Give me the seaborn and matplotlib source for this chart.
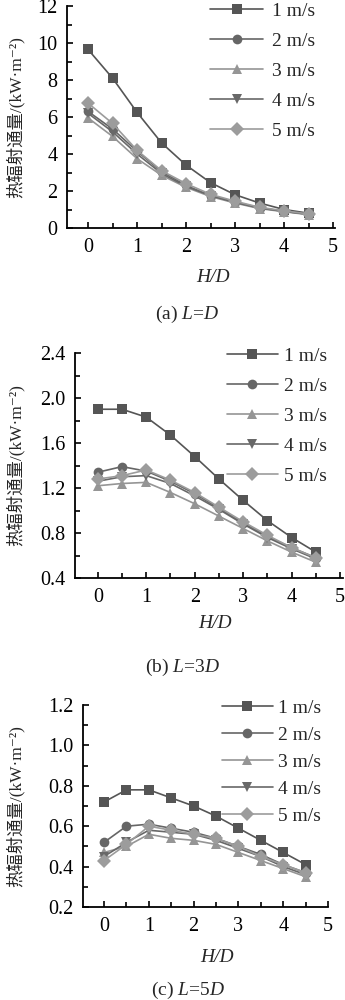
import numpy as np
import pandas as pd
import seaborn as sns
import matplotlib.pyplot as plt
from matplotlib.ticker import MultipleLocator

sns.set_theme(style='ticks')
plt.rcParams['font.family'] = ['Liberation Serif', 'Noto Sans CJK SC', 'DejaVu Sans']
plt.rcParams['mathtext.fontset'] = 'custom'
plt.rcParams['mathtext.rm'] = 'Liberation Serif'
plt.rcParams['mathtext.it'] = 'Liberation Serif:italic'

# ---------------- data ----------------
hd = [0, 0.5, 1, 1.5, 2, 2.5, 3, 3.5, 4, 4.5]
speeds = ['1 m/s', '2 m/s', '3 m/s', '4 m/s', '5 m/s']

# (a) L = D
a_v1 = [9.65, 8.1, 6.25, 4.6, 3.4, 2.45, 1.8, 1.35, 1.0, 0.8]
a_v2 = [6.3, 5.35, 4.15, 3.05, 2.3, 1.75, 1.4, 1.1, 0.9, 0.75]
a_v3 = [5.95, 4.95, 3.75, 2.85, 2.2, 1.7, 1.35, 1.05, 0.88, 0.72]
a_v4 = [6.2, 5.2, 4.0, 2.95, 2.25, 1.75, 1.38, 1.08, 0.9, 0.74]
a_v5 = [6.75, 5.65, 4.2, 3.1, 2.4, 1.82, 1.45, 1.12, 0.93, 0.76]

# (b) L = 3D
b_v1 = [1.90, 1.90, 1.83, 1.67, 1.48, 1.28, 1.09, 0.91, 0.76, 0.63]
b_v2 = [1.34, 1.39, 1.35, 1.26, 1.15, 1.02, 0.89, 0.77, 0.67, 0.58]
b_v3 = [1.22, 1.24, 1.25, 1.16, 1.06, 0.95, 0.84, 0.73, 0.63, 0.54]
b_v4 = [1.26, 1.30, 1.31, 1.24, 1.13, 1.01, 0.88, 0.76, 0.66, 0.57]
b_v5 = [1.28, 1.31, 1.36, 1.27, 1.16, 1.03, 0.90, 0.78, 0.67, 0.58]

# (c) L = 5D
c_v1 = [0.72, 0.78, 0.78, 0.74, 0.70, 0.65, 0.59, 0.53, 0.47, 0.41]
c_v2 = [0.52, 0.60, 0.61, 0.59, 0.57, 0.54, 0.50, 0.46, 0.41, 0.37]
c_v3 = [0.47, 0.50, 0.56, 0.54, 0.53, 0.51, 0.47, 0.43, 0.39, 0.35]
c_v4 = [0.45, 0.52, 0.58, 0.57, 0.56, 0.53, 0.49, 0.45, 0.40, 0.36]
c_v5 = [0.43, 0.51, 0.60, 0.58, 0.56, 0.54, 0.50, 0.45, 0.41, 0.37]

ylabel = '热辐射通量/(kW·m⁻²)'
xlabel = 'H/D'
captions = ['(a) $L$=$D$', '(b) $L$=3$D$', '(c) $L$=5$D$']

# ---------------- styles ----------------
palette = {'1 m/s': '#555555', '2 m/s': '#666666', '3 m/s': '#959595',
           '4 m/s': '#686868', '5 m/s': '#9c9c9c'}
markers = {'1 m/s': 's', '2 m/s': 'o', '3 m/s': '^', '4 m/s': 'v', '5 m/s': 'D'}

W, H = 345, 1000
fig = plt.figure(figsize=(W / 100, H / 100), dpi=100)


def px_rect(left, top, right, bottom):
    return [left / W, 1 - bottom / H, (right - left) / W, (bottom - top) / H]


panels = [
    dict(series=[a_v1, a_v2, a_v3, a_v4, a_v5], rect=px_rect(67, 6, 335, 228),
         xlim=(-0.43, 5.04), ylim=(0, 12), ymaj=2, ymin=1, yfmt='%d',
         leg=(210, 2, 2.73, 0.45, 0.64), xl=(213, 278), cap=(187, 314)),
    dict(series=[b_v1, b_v2, b_v3, b_v4, b_v5], rect=px_rect(75, 353, 343, 578),
         xlim=(-0.47, 5.06), ylim=(0.4, 2.4), ymaj=0.4, ymin=0.2, yfmt='%.1f',
         leg=(227, 347, 2.6, 0.35, 0.64), xl=(215, 624), cap=(182, 667)),
    dict(series=[c_v1, c_v2, c_v3, c_v4, c_v5], rect=px_rect(83, 705, 328, 907),
         xlim=(-0.47, 5.0), ylim=(0.2, 1.2), ymaj=0.2, ymin=0.1, yfmt='%.1f',
         leg=(222, 699, 2.6, 0.3, 0.49), xl=(217, 957), cap=(188, 990)),
]

fs_tick = 14.5
fs_leg = 14

for i, p in enumerate(panels):
    ax = fig.add_axes(p['rect'])
    rows = []
    for name, vals in zip(speeds, p['series']):
        for x, y in zip(hd, vals):
            rows.append({'H/D': x, 'q': y, 'v': name})
    df = pd.DataFrame(rows)
    sns.lineplot(data=df, x='H/D', y='q', hue='v', style='v', markers=markers,
                 dashes=False, palette=palette, markersize=7, linewidth=1.2,
                 markeredgewidth=0, estimator=None, sort=False, ax=ax)
    ax.set_xlim(*p['xlim'])
    ax.set_ylim(*p['ylim'])
    ax.xaxis.set_major_locator(MultipleLocator(1))
    ax.xaxis.set_minor_locator(MultipleLocator(0.5))
    ax.yaxis.set_major_locator(MultipleLocator(p['ymaj']))
    ax.yaxis.set_minor_locator(MultipleLocator(p['ymin']))
    ax.yaxis.set_major_formatter(plt.FormatStrFormatter(p['yfmt']))
    for s in ['top', 'right']:
        ax.spines[s].set_visible(False)
    for s in ['left', 'bottom']:
        ax.spines[s].set_linewidth(1.3)
        ax.spines[s].set_color('black')
    ax.tick_params(which='major', direction='in', length=4.5, width=1.2,
                   labelsize=fs_tick, colors='black')
    ax.tick_params(which='minor', direction='in', length=3.5, width=1.2, colors='black')
    ax.tick_params(axis='x', which='major', pad=7)
    ax.tick_params(axis='y', which='major', pad=7)
    ax.set_xlabel('')
    ax.set_ylabel(ylabel, fontsize=12.5)
    left_px = p['rect'][0] * W
    width_px = p['rect'][2] * W
    ax.yaxis.set_label_coords((25 - left_px) / width_px, 0.5)

    leg = ax.get_legend()
    handles = leg.legend_handles
    labels = [t.get_text() for t in leg.get_texts()]
    leg.remove()
    lx, ly, hl, tp, ls = p['leg']
    ax.legend(handles, labels, loc='upper left', bbox_to_anchor=(lx / W, 1 - ly / H),
              bbox_transform=fig.transFigure, frameon=False, fontsize=fs_leg,
              handlelength=hl, handletextpad=tp, labelspacing=ls,
              borderpad=0, borderaxespad=0)

    fig.text(p['xl'][0] / W, 1 - p['xl'][1] / H, xlabel, fontsize=14, style='italic',
             ha='center', va='center')
    fig.text(p['cap'][0] / W, 1 - p['cap'][1] / H, captions[i], fontsize=14,
             ha='center', va='center')

fig.savefig('out.png', dpi=100)
